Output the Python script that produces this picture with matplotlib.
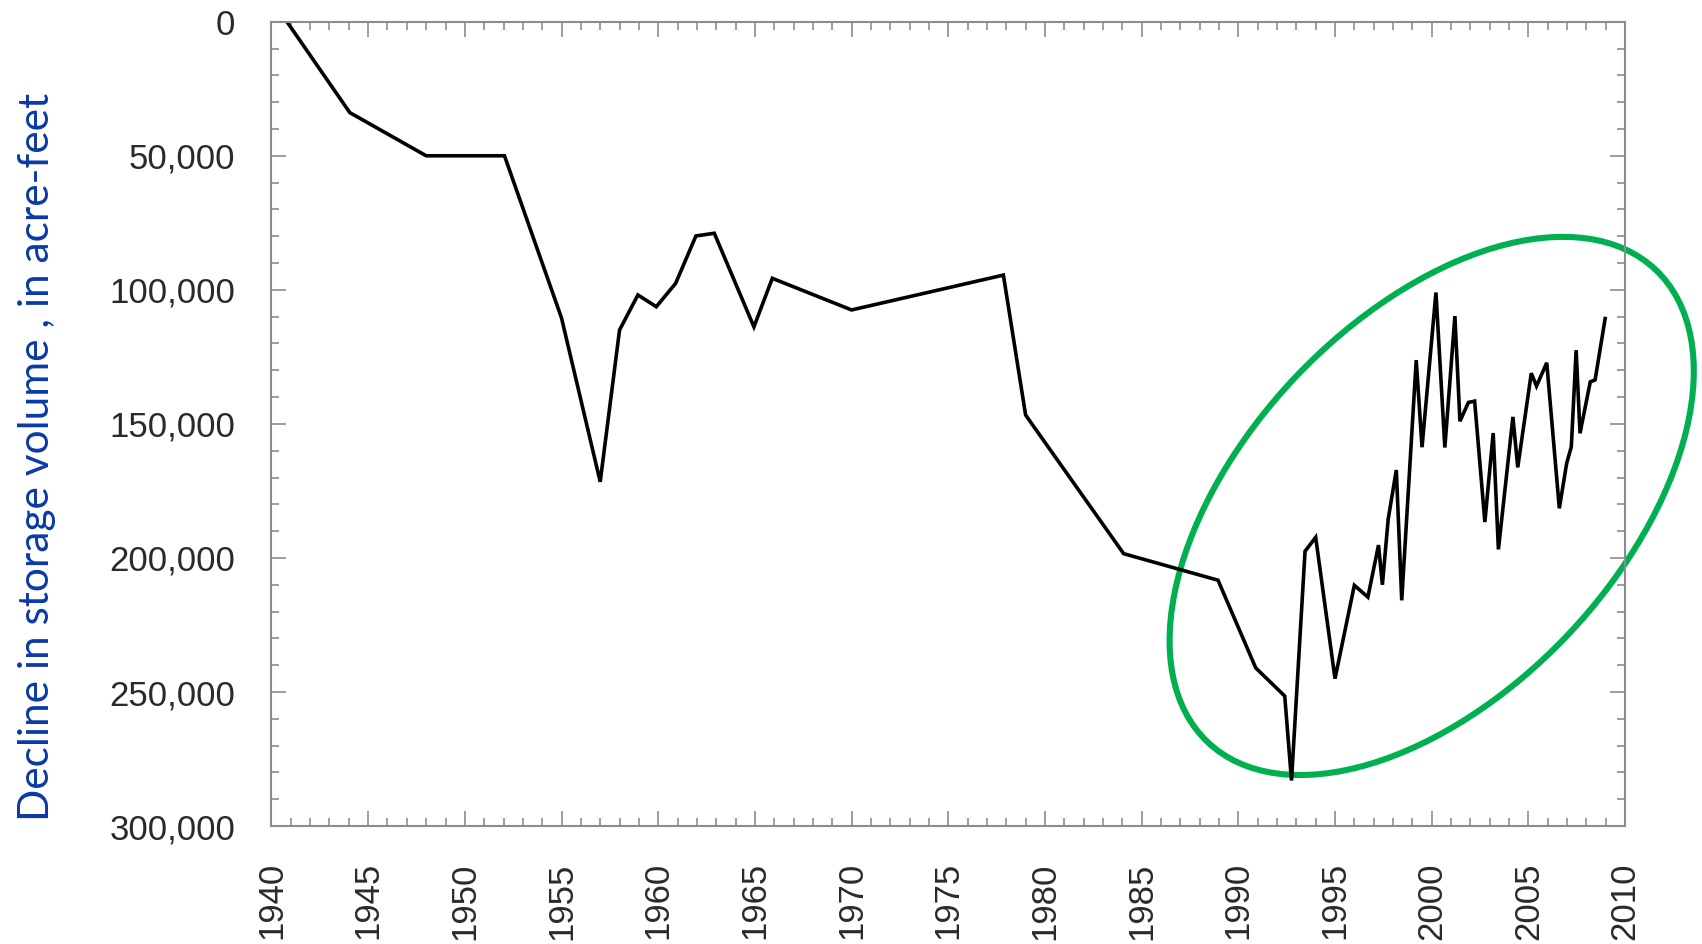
import matplotlib
matplotlib.use('Agg')
import matplotlib.pyplot as plt
from matplotlib.patches import Ellipse
from matplotlib.ticker import MultipleLocator, FuncFormatter
from matplotlib.transforms import ScaledTranslation

# storage decline (years, acre-feet)
years = [1940.8, 1944.05, 1948.0, 1950.0, 1952.05, 1955.0, 1957.0, 1958.0, 1958.95,
         1959.9, 1960.9, 1961.95, 1962.9, 1964.95, 1965.9, 1970.0, 1977.85, 1979.0,
         1984.07, 1988.95, 1990.9, 1992.4, 1992.75, 1993.45, 1994.0, 1995.0, 1996.0,
         1996.7, 1997.25, 1997.45, 1997.75, 1998.17, 1998.45, 1999.2, 1999.5, 2000.22,
         2000.68, 2001.2, 2001.46, 2001.9, 2002.22, 2002.75, 2003.18, 2003.45, 2004.2,
         2004.45, 2005.15, 2005.42, 2005.95, 2006.6, 2006.98, 2007.22, 2007.47, 2007.67,
         2008.2, 2008.45, 2008.97]
decline = [0, 33900, 50000, 50000, 50000, 110500, 171600, 115000, 101900,
           106300, 97600, 79900, 78900, 113800, 95700, 107500, 94500, 146700,
           198400, 208300, 241000, 251500, 283000, 197500, 192300, 245000, 210200,
           214600, 195200, 210000, 185500, 167200, 215800, 126200, 158700, 101000,
           158800, 109800, 149000, 142000, 141500, 186600, 153400, 196800, 147400,
           166200, 131100, 135900, 127200, 181500, 164700, 158500, 122500, 153500,
           134300, 133600, 110700]

x_major = 5
y_major = 50000
ylabel = 'Decline in storage volume , in acre-feet'

fig = plt.figure(figsize=(17.02, 9.44), dpi=100)
ax = fig.add_axes([0.1595, 0.1249, 0.7953, 0.8521])

ax.plot(years, decline, color='black', lw=2.6, solid_joinstyle='miter')

ax.set_xlim(1940, 2010)
ax.set_ylim(300000, 0)
ax.xaxis.set_major_locator(MultipleLocator(x_major))
ax.xaxis.set_minor_locator(MultipleLocator(1))
ax.yaxis.set_major_locator(MultipleLocator(y_major))
ax.yaxis.set_minor_locator(MultipleLocator(10000))
ax.yaxis.set_major_formatter(FuncFormatter(lambda v, p: f'{v:,.0f}'))

for s in ax.spines.values():
	s.set_color('#8c8c8c')
	s.set_linewidth(1.5)

ax.tick_params(which='both', direction='in', top=True, right=True, color='#8c8c8c', width=1.2)
ax.tick_params(which='major', length=11, pad=26, labelsize=25, labelcolor='#2a2a2a')
ax.tick_params(which='minor', length=6)
for lab in ax.get_xticklabels() + ax.get_yticklabels():
	lab.set_family('Liberation Sans')
for lab in ax.get_xticklabels():
	lab.set_rotation(90)

fig.text(0.022, 0.516, ylabel, rotation=90, ha='center', va='center',
         color='#0a3aa8', fontsize=30.5, family='Lato')

# green ring drawn in inches, anchored at a data point
ring = Ellipse((0, 0), 6.51, 3.75, angle=46.5, fill=False, ec='#00b050', lw=4.4,
               transform=fig.dpi_scale_trans + ScaledTranslation(2000, 180600, ax.transData),
               clip_on=False)
ax.add_patch(ring)

fig.savefig('out.png', dpi=100)
